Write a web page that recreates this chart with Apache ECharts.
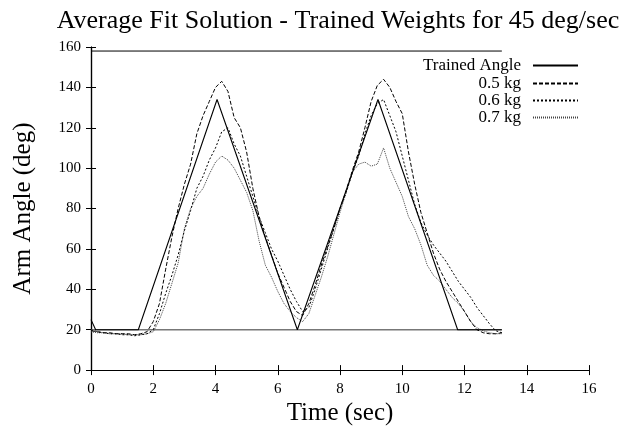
<!DOCTYPE html>
<html>
<head>
<meta charset="utf-8">
<script src="https://cdn.jsdelivr.net/npm/echarts@6/dist/echarts.min.js"></script>
<style>
html,body{margin:0;padding:0;background:#fff;}
#chart{width:621px;height:431px;}
</style>
</head>
<body>
<div id="chart"></div>
<script>
// ---- data ----
const titleText = 'Average Fit Solution - Trained Weights for 45 deg/sec';
const xTicks = [0, 2, 4, 6, 8, 10, 12, 14, 16];
const yTicks = [0, 20, 40, 60, 80, 100, 120, 140, 160];

const trainedTime  = [0, 0.15, 1.52, 4.05, 6.63, 9.22, 11.78, 13.2];
const trainedAngle = [25, 20, 20, 134, 20, 134, 20, 20];

const boundTime  = [0, 13.2];
const lowerBound = [20, 20];
const upperBound = [158, 158];

const time = [0,0.2,0.4,0.6,0.8,1.0,1.2,1.4,1.6,1.8,2.0,2.2,2.4,2.6,2.8,3.0,3.2,3.4,3.6,3.8,
  4.0,4.2,4.4,4.6,4.8,5.0,5.2,5.4,5.6,5.8,6.0,6.2,6.4,6.6,6.8,7.0,7.2,7.4,7.6,7.8,
  8.0,8.2,8.4,8.6,8.8,9.0,9.2,9.4,9.6,9.8,10.0,10.2,10.4,10.6,10.8,11.0,11.2,11.4,11.6,11.8,
  12.0,12.2,12.4,12.6,12.8,13.0,13.2];

const kg05 = [19.5,19,18.5,18.5,18,18,18,17.5,18,19,24,33,50,66,80,92,102,117,126,133,
  140,143,138,125,120,108,90,76,66,57,48,41,34,29,27,33,42,52,61,70,
  80,89,99,108,120,133,141,144,140,133,127,108,92,78,68,58,50,44,39,34,
  29,24,20,18.5,18,18,18.5];

const kg06 = [20,19,18.5,18,18,17.5,17.5,17,17.5,18,20,28,38,47,57,69,79,90,96,104,
  110,118,120,112,106,96,86,76,68,60,54,47,40,34,29,31,40,50,60,70,
  80,88,98,106,117,126,132,134,126,118,106,94,82,73,67,62,58,54,49,44,
  40,36,31,27,23,19.5,18.5];

const kg07 = [19,18.5,18.5,18,18,18,17.5,17.5,17.5,18,19,25,33,43,53,70,80,86,90,97,
  103,106,104,100,94,88,79,64,52,46,39,33,29,26,24,28,37,46,56,67,
  78,88,98,102,103,101,102,110,100,93,86,76,70,62,52,47,44,40,36,33,
  29,24,21,19.5,18.5,18,18];

const seriesNames = ['Trained Angle', '0.5 kg', '0.6 kg', '0.7 kg'];

// ---- build ----
const zip = (xs, ys) => xs.map((x, i) => [x, ys[i]]);
const FONT = 'Liberation Serif';

const legendTops = [57, 75, 92, 109];
const legends = seriesNames.map((n, i) => ({
  data: [n],
  orient: 'vertical',
  align: 'right',
  right: 42,
  top: legendTops[i],
  padding: 0,
  itemWidth: 45,
  itemHeight: 10,
  itemStyle: {opacity: 0},
  textStyle: {fontFamily: FONT, fontSize: 17, color: '#000', padding: [0, 7, 0, 0]}
}));

const axisCommon = {
  type: 'value',
  axisLine: {show: true, lineStyle: {color: '#000', width: 1.2}},
  axisTick: {show: true, inside: true, length: 5, lineStyle: {color: '#000', width: 1}},
  splitLine: {show: false}
};

const option = {
  animation: false,
  backgroundColor: '#fff',
  title: {
    text: titleText,
    left: 333, textAlign: 'center',
    top: 3,
    textStyle: {fontFamily: FONT, fontSize: 26, fontWeight: 'normal', color: '#000'}
  },
  legend: legends,
  grid: {left: 91, right: 32, top: 47, bottom: 58},
  xAxis: [
    Object.assign({}, axisCommon, {
      position: 'bottom', min: xTicks[0], max: xTicks[xTicks.length - 1], interval: 2,
      name: 'Time (sec)', nameLocation: 'middle', nameGap: 23,
      nameTextStyle: {fontFamily: FONT, fontSize: 25, color: '#000'},
      axisLabel: {fontFamily: FONT, fontSize: 15, color: '#000', margin: 11}
    }),
    Object.assign({}, axisCommon, {
      position: 'top', min: xTicks[0], max: xTicks[xTicks.length - 1], interval: 2,
      axisLabel: {show: false}
    })
  ],
  yAxis: [
    Object.assign({}, axisCommon, {
      position: 'left', min: yTicks[0], max: yTicks[yTicks.length - 1], interval: 20,
      name: 'Arm Angle (deg)', nameLocation: 'middle', nameGap: 55,
      nameTextStyle: {fontFamily: FONT, fontSize: 25, color: '#000'},
      axisLabel: {fontFamily: FONT, fontSize: 15, color: '#000', margin: 10}
    }),
    Object.assign({}, axisCommon, {
      position: 'right', min: yTicks[0], max: yTicks[yTicks.length - 1], interval: 20,
      axisLabel: {show: false}
    })
  ],
  series: [
    {name: 'lower', type: 'line', data: zip(boundTime, lowerBound), symbol: 'none',
     lineStyle: {color: '#777', width: 1.6}, z: 1, silent: true},
    {name: 'upper', type: 'line', data: zip(boundTime, upperBound), symbol: 'none',
     lineStyle: {color: '#000', width: 1}, z: 1, silent: true},
    {name: seriesNames[0], type: 'line', data: zip(trainedTime, trainedAngle), symbol: 'none',
     itemStyle: {color: '#000'},
     lineStyle: {color: '#000', width: 1.1, type: 'solid'}, z: 5},
    {name: seriesNames[1], type: 'line', data: zip(time, kg05), symbol: 'none',
     itemStyle: {color: '#000'},
     lineStyle: {color: '#000', width: 1, type: [4, 2]}, z: 4},
    {name: seriesNames[2], type: 'line', data: zip(time, kg06), symbol: 'none',
     itemStyle: {color: '#000'},
     lineStyle: {color: '#000', width: 1, type: [2, 2]}, z: 3},
    {name: seriesNames[3], type: 'line', data: zip(time, kg07), symbol: 'none',
     itemStyle: {color: '#444'},
     lineStyle: {color: '#444', width: 1, type: [1, 1]}, z: 2}
  ]
};

const chart = echarts.init(document.getElementById('chart'), null, {renderer: 'canvas'});
chart.setOption(option);
</script>
</body>
</html>
